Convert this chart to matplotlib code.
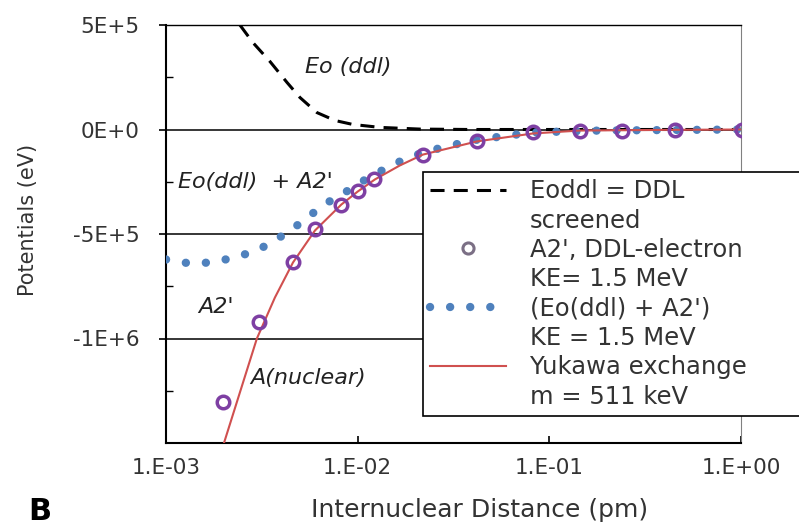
import matplotlib
matplotlib.use("Agg")
import matplotlib.pyplot as plt
from matplotlib.lines import Line2D
from matplotlib.ticker import FixedLocator, NullLocator

plt.rcParams['font.family'] = ['DejaVu Sans']

# Eo(ddl): DDL screened potential (eV) vs internuclear distance (pm)
eo_x = [2.43e-3, 2.84e-3, 3.49e-3, 4.28e-3, 5.0e-3, 6.13e-3, 7.62e-3,
        9.45e-3, 1.31e-2, 2.11e-2, 3.85e-2, 1.0]
eo_y = [5.0e5, 4.16e5, 3.25e5, 2.25e5, 1.53e5, 8.1e4, 4.3e4,
        2.4e4, 1.0e4, 2.0e3, 0.0, 0.0]

# A2', DDL-electron, KE = 1.5 MeV (open circles)
a2_x = [1.98e-3, 3.05e-3, 4.60e-3, 5.99e-3, 8.18e-3, 1.004e-2, 1.216e-2,
        2.19e-2, 4.19e-2, 8.21e-2, 0.1444, 0.239, 0.452, 1.01]
a2_y = [-1.306e6, -9.23e5, -6.36e5, -4.78e5, -3.59e5, -2.92e5, -2.39e5,
        -1.20e5, -5.7e4, -1.4e4, -5.0e3, -5.0e3, -2.0e3, -2.0e3]

# (Eo(ddl) + A2'), KE = 1.5 MeV (blue dots)
sum_x = [1.0e-3, 1.334e-3, 1.738e-3, 2.29e-3, 2.98e-3, 3.70e-3, 4.60e-3,
         5.64e-3, 6.83e-3, 8.59e-3, 1.053e-2, 1.307e-2, 1.66e-2, 2.19e-2,
         3.03e-2, 4.24e-2, 8.21e-2, 0.1837, 1.0]
sum_y = [-6.22e5, -6.41e5, -6.36e5, -6.12e5, -5.79e5, -5.31e5, -4.74e5,
         -4.11e5, -3.54e5, -3.01e5, -2.49e5, -2.01e5, -1.53e5, -1.10e5,
         -7.7e4, -4.8e4, -1.4e4, -5.0e3, 0.0]

# Yukawa exchange, m = 511 keV
yuk_x = [1.95e-3, 2.007e-3, 2.43e-3, 2.98e-3, 3.70e-3, 4.60e-3, 5.99e-3,
         8.22e-3, 1.0e-2, 1.23e-2, 1.66e-2, 2.19e-2, 4.19e-2, 8.21e-2,
         0.144, 0.377, 1.0]
yuk_y = [-1.55e6, -1.50e6, -1.258e6, -1.0e6, -8.04e5, -6.36e5, -4.83e5,
         -3.59e5, -2.97e5, -2.39e5, -1.72e5, -1.20e5, -5.7e4, -1.9e4,
         -5.0e3, -2.0e3, 0.0]

y_ticks = [5e5, 0, -5e5, -1e6]
y_tick_labels = ["5E+5", "0E+0", "-5E+5", "-1E+6"]
y_minor = [2.5e5, -2.5e5, -7.5e5, -1.25e6]
x_ticks = [1e-3, 1e-2, 1e-1, 1e0]
x_tick_labels = ["1.E-03", "1.E-02", "1.E-01", "1.E+00"]

fig = plt.figure(figsize=(7.99, 5.28), dpi=100)
ax = fig.add_axes([166 / 799, 1 - 443 / 528, 575 / 799, 418 / 528])

ax.set_xscale("log")
ax.set_xlim(1e-3, 1e0)
ax.set_ylim(-1.5e6, 5e5)

# horizontal gridlines
for yv in y_ticks:
    ax.axhline(yv, color="black", lw=1.1, zorder=1)

line_eo, = ax.plot(eo_x, eo_y, color="black", lw=2.2,
                   linestyle=(0, (4.6, 3.0)), zorder=3)
line_sum, = ax.plot(sum_x, sum_y, color="#4f81bd", lw=6,
                    linestyle=(0, (0.01, 2.4)), dash_capstyle="round",
                    zorder=3)
line_yuk, = ax.plot(yuk_x, yuk_y, color="#d0504f", lw=1.5, zorder=4)
ax.plot(a2_x, a2_y, linestyle="none", marker="o", markersize=9,
        markerfacecolor="none", markeredgecolor="#7e3fa3",
        markeredgewidth=2.5, zorder=5)

# spines
for s in ["left", "bottom"]:
    ax.spines[s].set_linewidth(1.5)
    ax.spines[s].set_color("black")
ax.spines["top"].set_linewidth(1.0)
ax.spines["right"].set_linewidth(0.8)
ax.spines["right"].set_color("#808080")

ax.set_yticks(y_ticks)
ax.set_yticklabels(y_tick_labels)
ax.yaxis.set_minor_locator(FixedLocator(y_minor))
ax.xaxis.set_major_locator(FixedLocator(x_ticks))
ax.set_xticklabels(x_tick_labels)
ax.xaxis.set_minor_locator(NullLocator())

ax.tick_params(axis="y", which="major", direction="out", length=5, width=1.2,
               pad=14, labelsize=15.5, labelcolor="#333333")
ax.tick_params(axis="y", which="minor", direction="in", length=5, width=1.0)
ax.tick_params(axis="x", which="major", direction="in", length=5, width=1.2,
               pad=11, labelsize=15.5, labelcolor="#333333")

ax.set_ylabel("Potentials (eV)", fontsize=15, color="#333333")
ax.yaxis.set_label_coords(-0.222, 0.533)
fig.text(480 / 799, 1 - 510 / 528, "Internuclear Distance (pm)",
         fontsize=18, color="#333333", ha="center", va="center")
fig.text(40 / 799, 1 - 512 / 528, "B", fontsize=22, fontweight="bold",
         ha="center", va="center")

# curve annotations
ann = dict(fontsize=16, style="italic", color="#222222", va="center",
           ha="left", transform=ax.transAxes)
ax.text(0.2417, 0.8995, "Eo (ddl)", **ann)
ax.text(0.0209, 0.6244, "Eo(ddl)  + A2'", **ann)
ax.text(0.0557, 0.3254, "A2'", **ann)
ax.text(0.146, 0.1555, "A(nuclear)", **ann)

# legend
blank = Line2D([], [], color="none")
circ = Line2D([], [], linestyle="none", marker="o", markersize=8,
              markerfacecolor="white", markeredgecolor="#7b6f85",
              markeredgewidth=2.2)
handles = [line_eo, blank, circ, blank, line_sum, blank, line_yuk, blank]
labels = ["Eoddl = DDL", "screened", "A2', DDL-electron", "KE= 1.5 MeV",
          "(Eo(ddl) + A2')", "KE = 1.5 MeV", "Yukawa exchange",
          "m = 511 keV"]
leg = ax.legend(handles, labels, loc="upper left",
                bbox_to_anchor=(423 / 799, 0.1, 0.52, 1 - 172 / 528 - 0.1),
                bbox_transform=fig.transFigure, mode="expand",
                borderaxespad=0, fontsize=17.5, labelspacing=0.22,
                borderpad=0.3, handlelength=3.1, handletextpad=1.0,
                fancybox=False, framealpha=1, edgecolor="black")
leg.get_frame().set_linewidth(1.2)
for t in leg.get_texts():
    t.set_color("#333333")

fig.savefig("out.png", dpi=100)
